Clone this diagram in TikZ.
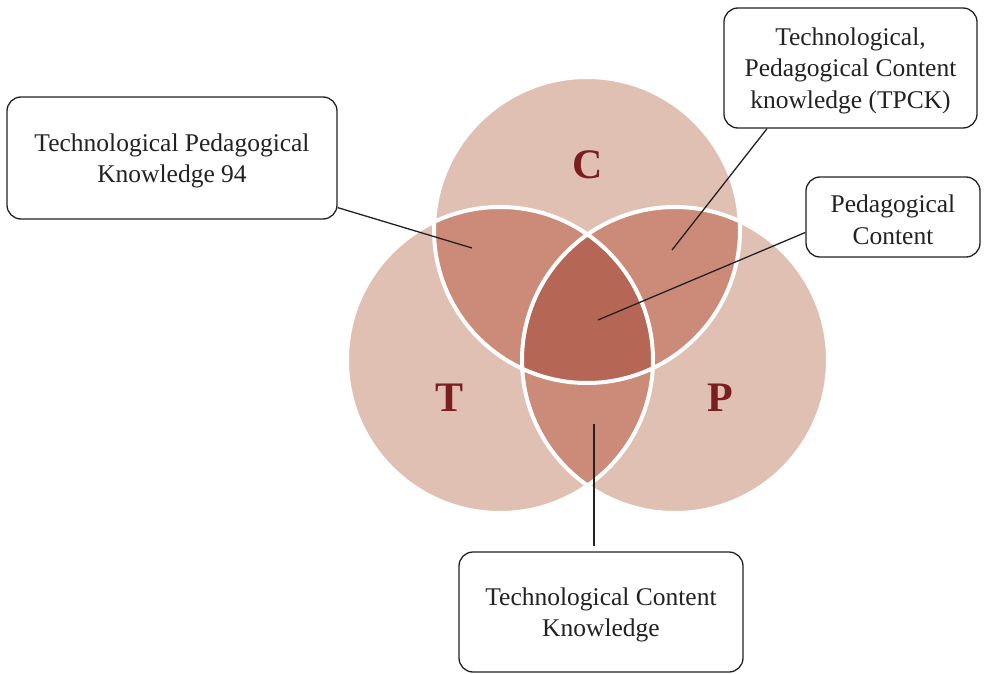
\documentclass[tikz,border=0pt]{standalone}
\usepackage{fontspec}
\setmainfont{Liberation Serif}
\definecolor{setlight}{HTML}{E1C0B4}
\definecolor{setmid}{HTML}{CB8B78}
\definecolor{setdark}{HTML}{B66654}
\definecolor{setletter}{HTML}{7A1E22}
\definecolor{inkgray}{HTML}{222222}
\newcommand{\padtop}{\rule{0pt}{23.5pt}}

\begin{document}
\begin{tikzpicture}[x=1pt, y=-1pt,
    label box/.style={draw=inkgray, line width=1.3pt, rounded corners=14pt,
      align=center, inner sep=0pt, text=inkgray,
      font=\fontsize{25.5}{31.5}\selectfont},
    set letter/.style={text=setletter, font=\fontsize{42}{42}\selectfont\bfseries},
    ring/.style={draw=white, line width=4pt},
    pointer/.style={draw=inkgray, line width=1.3pt}]
    \useasboundingbox (0,0) rectangle (994,674);

    % the three domains
    \coordinate (c) at (587,230);
    \coordinate (t) at (500,360);
    \coordinate (p) at (675,360);
    \fill[setlight] (c) circle (153pt) (t) circle (153pt) (p) circle (153pt);

    % pairwise overlaps
    \begin{scope}
        \clip (c) circle (153pt);
        \fill[setmid] (t) circle (153pt) (p) circle (153pt);
    \end{scope}
    \begin{scope}
        \clip (t) circle (153pt);
        \fill[setmid] (p) circle (153pt);
    \end{scope}

    % centre
    \begin{scope}
        \clip (c) circle (153pt);
        \clip (t) circle (153pt);
        \fill[setdark] (p) circle (153pt);
    \end{scope}
    \draw[ring] (c) circle (153pt) (t) circle (153pt) (p) circle (153pt);

    \node[set letter] (cl) at (588,164.5) {C};
    \node[set letter] (tl) at (449.5,397.5) {T};
    \node[set letter] (pl) at (720,397.5) {P};

    % callouts
    \node[label box, minimum width=330pt, minimum height=122pt] (tpkbox)
        at (172,158) {\padtop Technological Pedagogical\\Knowledge 94};
    \node[label box, minimum width=253pt, minimum height=120pt] (tpckbox)
        at (850.5,68) {\padtop Technological,\\Pedagogical Content\\knowledge (TPCK)};
    \node[label box, minimum width=174pt, minimum height=80pt] (pcbox)
        at (893,217) {\padtop Pedagogical\\Content};
    \node[label box, minimum width=284pt, minimum height=120pt] (tckbox)
        at (601,612) {\padtop Technological Content\\Knowledge};

    \coordinate (tpk) at (472,248);
    \coordinate (tpck) at (672,250);
    \coordinate (pc) at (598,320);
    \coordinate (tck) at (594,424);

    \draw[pointer] (tpkbox) -- (tpk);
    \draw[pointer] (tpckbox.216) -- (tpck);
    \draw[pointer] (pcbox.190) -- (pc);
    \draw[pointer] (tck) -- ([yshift=5pt]tckbox.north -| tck);
\end{tikzpicture}
\end{document}
